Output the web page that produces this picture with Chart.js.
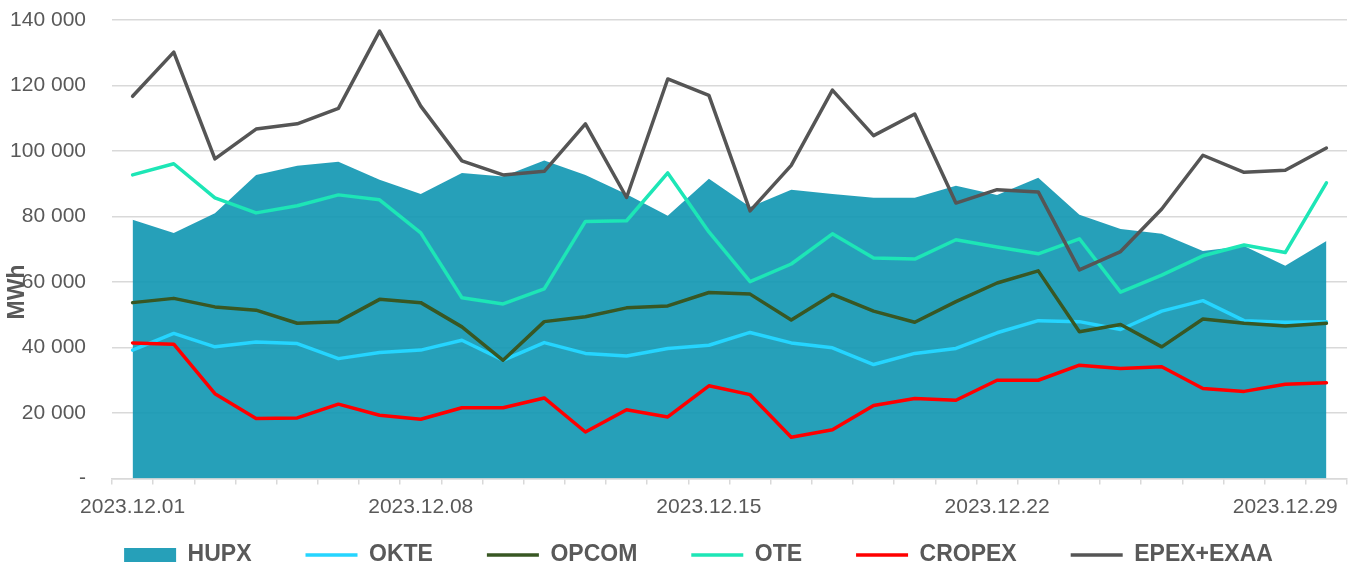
<!DOCTYPE html>
<html>
<head>
<meta charset="utf-8">
<script src="https://cdn.jsdelivr.net/npm/chart.js@4.4.1/dist/chart.umd.min.js"></script>
<style>
  html, body { margin: 0; padding: 0; background: #ffffff; }
  #wrap { width: 1351px; height: 570px; position: relative; }
</style>
</head>
<body>
<div id="wrap"><canvas id="c"></canvas></div>
<script>
const categories = ['2023.12.01','2023.12.02','2023.12.03','2023.12.04','2023.12.05','2023.12.06','2023.12.07',
  '2023.12.08','2023.12.09','2023.12.10','2023.12.11','2023.12.12','2023.12.13','2023.12.14',
  '2023.12.15','2023.12.16','2023.12.17','2023.12.18','2023.12.19','2023.12.20','2023.12.21',
  '2023.12.22','2023.12.23','2023.12.24','2023.12.25','2023.12.26','2023.12.27','2023.12.28',
  '2023.12.29','2023.12.30'];

const hupx = [79000, 75000, 81000, 92700, 95500, 96700, 91200, 86900, 93300, 92200, 97100, 92700, 86800, 80200, 91500,
  82900, 88200, 86900, 85700, 85700, 89400, 86600, 91800, 80500, 76200, 74700, 69500, 71000, 65000, 72500];
const okte = [39200, 44300, 40200, 41700, 41200, 36600, 38500, 39200, 42200, 36100, 41500, 38200, 37400, 39700, 40700,
  44600, 41400, 39900, 34800, 38200, 39700, 44500, 48200, 47900, 45500, 51100, 54300, 48200, 47700, 47900];
const opcom = [53700, 55000, 52400, 51400, 47400, 47900, 54700, 53700, 46300, 36100, 47900, 49400, 52100, 52700, 56800,
  56300, 48400, 56200, 51100, 47700, 54000, 59700, 63400, 44800, 47000, 40200, 48700, 47400, 46600, 47400];
const ote = [92700, 96100, 85700, 81100, 83300, 86600, 85100, 75000, 55200, 53300, 57900, 78500, 78700, 93300, 75300,
  60100, 65500, 74700, 67300, 67000, 72900, 70700, 68600, 73200, 56900, 62100, 68000, 71300, 69000, 90300];
const cropex = [41400, 41000, 25900, 18300, 18500, 22700, 19300, 18100, 21600, 21600, 24600, 14200, 21000, 18800, 28300,
  25600, 12600, 14900, 22300, 24400, 23900, 30000, 30000, 34600, 33600, 34100, 27500, 26600, 28800, 29200];
const epex = [116700, 130200, 97600, 106700, 108300, 113000, 136600, 113700, 97000, 92700, 93800, 108300, 85800, 122000, 117000,
  81700, 95600, 118600, 104700, 111300, 84100, 88200, 87500, 63700, 69300, 82300, 98700, 93500, 94100, 100900];

const yTicks = { min: 0, max: 140000, step: 20000 };
const seriesNames = ['HUPX', 'OKTE', 'OPCOM', 'OTE', 'CROPEX', 'EPEX+EXAA'];
const yTitle = 'MWh';

const FONT = "'Liberation Sans', Arial, sans-serif";
const TXT = '#595959';

function fmt(v) {
  if (v === 0) return '-';
  return String(v).replace(/\B(?=(\d{3})+(?!\d))/g, ' ');
}

function lineDs(label, data, color, order) {
  return {
    type: 'line', label, data,
    borderColor: color, backgroundColor: color,
    borderWidth: 3.5, pointRadius: 0, pointHoverRadius: 0,
    pointStyle: 'line', tension: 0, fill: false,
    borderJoinStyle: 'round', borderCapStyle: 'round', order
  };
}

// let tick labels extend outside their (narrowed) axis boxes
const noLabelClip = {
  id: 'noLabelClip',
  beforeDraw(chart) {
    Object.values(chart.scales).forEach(s => { s._computeLabelArea = () => undefined; });
  }
};

const yTitlePlugin = {
  id: 'yTitlePlugin',
  afterDraw(chart) {
    const ctx = chart.ctx;
    ctx.save();
    ctx.translate(18, 292);
    ctx.rotate(-Math.PI / 2);
    ctx.font = "bold 23px " + FONT;
    ctx.fillStyle = TXT;
    ctx.textAlign = 'center';
    ctx.textBaseline = 'middle';
    ctx.fillText(yTitle, 0, 0);
    ctx.restore();
  }
};

new Chart(document.getElementById('c'), {
  type: 'line',
  data: {
    labels: categories,
    datasets: [
      {
        label: seriesNames[0], data: hupx,
        backgroundColor: 'rgba(19,152,179,0.92)', borderColor: 'rgba(19,152,179,0.92)',
        borderWidth: 0, pointRadius: 0, pointHoverRadius: 0, pointStyle: 'rect',
        fill: 'origin', tension: 0, order: 10
      },
      lineDs(seriesNames[1], okte, '#25d5ff', 6),
      lineDs(seriesNames[2], opcom, '#385723', 5),
      lineDs(seriesNames[3], ote, '#1de6b6', 4),
      lineDs(seriesNames[4], cropex, '#ff0000', 3),
      lineDs(seriesNames[5], epex, '#555555', 2)
    ]
  },
  options: {
    responsive: true,
    maintainAspectRatio: false,
    animation: false,
    devicePixelRatio: 1,
    layout: { padding: { top: 20, left: 50, right: 4, bottom: 0 } },
    plugins: {
      tooltip: { enabled: false },
      legend: {
        position: 'bottom',
        maxHeight: 80.5,
        labels: {
          font: { family: FONT, size: 23, weight: 'bold' },
          color: TXT,
          usePointStyle: true,
          pointStyleWidth: 52,
          boxHeight: 14,
          padding: 54,
          sort: (a, b) => a.datasetIndex - b.datasetIndex
        }
      }
    },
    scales: {
      x: {
        type: 'category',
        offset: true,
        afterFit(scale) { scale.height = 11; },
        grid: { offset: true, drawOnChartArea: false, drawTicks: true, tickLength: 6, color: '#d9d9d9', lineWidth: 1.5 },
        border: { display: true, color: '#d9d9d9', width: 1.5 },
        ticks: {
          autoSkip: false, maxRotation: 0, minRotation: 0, padding: 10,
          font: { family: FONT, size: 21 }, color: TXT,
          callback: function (value, index) { return index % 7 === 0 ? this.getLabelForValue(value) : ''; }
        }
      },
      y: {
        min: yTicks.min, max: yTicks.max,
        afterFit(scale) { scale.width = 62; },
        grid: { color: '#d9d9d9', lineWidth: 1.5, drawTicks: true, tickLength: 26, tickColor: 'rgba(0,0,0,0)' },
        border: { display: false },
        ticks: {
          stepSize: yTicks.step, padding: 0,
          font: { family: FONT, size: 21 }, color: TXT,
          callback: (v) => fmt(v)
        }
      }
    }
  },
  plugins: [noLabelClip, yTitlePlugin]
});
</script>
</body>
</html>
